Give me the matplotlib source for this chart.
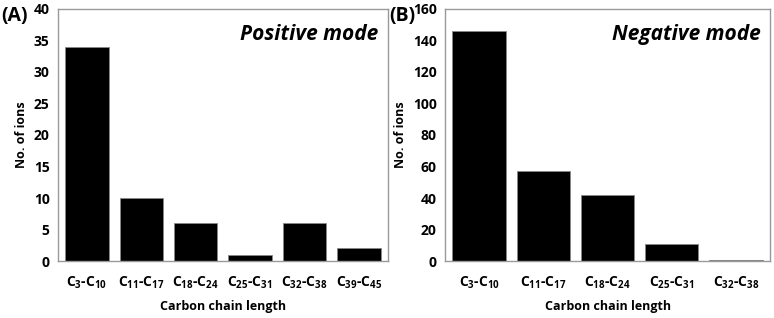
import matplotlib
matplotlib.use('Agg')
import matplotlib.pyplot as plt
import numpy as np

plt.rcParams['font.family'] = ['Open Sans', 'DejaVu Sans']
plt.rcParams['mathtext.fontset'] = 'custom'
plt.rcParams['mathtext.rm'] = 'Open Sans:bold'
plt.rcParams['mathtext.default'] = 'rm'

# data
pos_labels = ['C$_{3}$-C$_{10}$', 'C$_{11}$-C$_{17}$', 'C$_{18}$-C$_{24}$',
              'C$_{25}$-C$_{31}$', 'C$_{32}$-C$_{38}$', 'C$_{39}$-C$_{45}$']
pos_counts = [34, 10, 6, 1, 6, 2]
neg_labels = ['C$_{3}$-C$_{10}$', 'C$_{11}$-C$_{17}$', 'C$_{18}$-C$_{24}$',
              'C$_{25}$-C$_{31}$', 'C$_{32}$-C$_{38}$']
neg_counts = [146, 57, 42, 11, 1]

fig = plt.figure(figsize=(7.74, 3.18), dpi=100)
axA = fig.add_axes([0.075, 0.179, 0.426, 0.793])
axB = fig.add_axes([0.575, 0.179, 0.420, 0.793])


def draw(ax, labels, counts, ymax, step, width, title):
    x = np.arange(len(counts))
    ax.bar(x, counts, width=width, color='black', edgecolor='#888888', linewidth=0.6)
    ax.set_xlim(-0.53, len(counts) - 0.47)
    ax.set_ylim(0, ymax)
    ax.set_yticks(np.arange(0, ymax + 1, step))
    ax.set_xticks(x)
    ax.set_xticklabels(labels, fontsize=10, fontweight='bold')
    for t in ax.get_yticklabels():
        t.set_fontweight('bold')
        t.set_fontsize(10)
    ax.tick_params(length=0, pad=6)
    ax.tick_params(axis='x', pad=10)
    for s in ax.spines.values():
        s.set_color('#999999')
        s.set_linewidth(1.0)
    ax.set_ylabel('No. of ions', fontsize=9, fontweight='bold')
    ax.set_xlabel('Carbon chain length', fontsize=9, fontweight='bold', labelpad=6)
    ax.text(0.97, 0.94, title, transform=ax.transAxes, ha='right', va='top',
            fontsize=15, fontweight='bold', style='italic')


draw(axA, pos_labels, pos_counts, 40, 5, 0.8, 'Positive mode')
draw(axB, neg_labels, neg_counts, 160, 20, 0.83, 'Negative mode')

fig.text(0.002, 0.98, '(A)', fontsize=14, fontweight='bold', ha='left', va='top')
fig.text(0.503, 0.98, '(B)', fontsize=14, fontweight='bold', ha='left', va='top')

fig.savefig('out.png', dpi=100)
